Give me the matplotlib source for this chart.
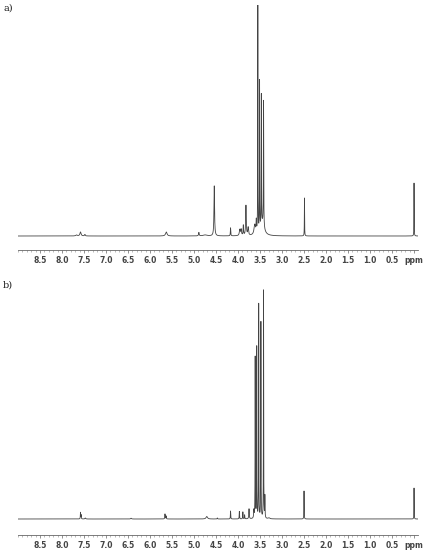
import numpy as np
import matplotlib
matplotlib.use("Agg")
import matplotlib.pyplot as plt
from matplotlib.ticker import MultipleLocator, FixedLocator, FixedFormatter

# ---- data: peak lists (chemical shift ppm, height, half-width ppm) ----
a_shift = [7.67, 7.58, 7.48, 5.63, 4.89, 4.75, 4.54, 4.17, 3.96, 3.93, 3.88, 3.82, 3.77,
           3.62, 3.585, 3.55, 3.51, 3.47, 3.42, 3.45, 2.49, 0.0]
a_height = [1.0, 4.0, 1.5, 4.0, 3.5, 1.0, 50, 8, 6, 6, 10, 30, 8,
            10, 12, 229, 149, 130, 126, 12, 38, 53]
a_width = [0.02, 0.015, 0.01, 0.02, 0.008, 0.05, 0.008, 0.005, 0.012, 0.01, 0.006, 0.008, 0.01,
           0.02, 0.006, 0.003, 0.003, 0.003, 0.004, 0.05, 0.003, 0.0025]

b_shift = [7.58, 7.565, 7.47, 6.43, 5.66, 5.635, 4.71, 4.47, 4.17, 3.97, 3.89, 3.85, 3.75,
           3.64, 3.61, 3.575, 3.53, 3.48, 3.42, 3.39, 3.30, 2.50, 0.0]
b_height = [6.5, 4, 1.0, 0.8, 5, 3, 2.5, 1.0, 8, 7.5, 7, 4, 10,
            8, 161, 171, 214, 196, 228, 22, 1.0, 28, 31]
b_width = [0.004, 0.004, 0.01, 0.01, 0.005, 0.005, 0.02, 0.005, 0.004, 0.004, 0.004, 0.004, 0.006,
           0.006, 0.003, 0.003, 0.003, 0.003, 0.003, 0.004, 0.02, 0.003, 0.0025]

xticks_major = [8.5, 8.0, 7.5, 7.0, 6.5, 6.0, 5.5, 5.0, 4.5, 4.0, 3.5, 3.0, 2.5, 2.0, 1.5, 1.0, 0.5, 0.0]
xtick_labels = ["8.5", "8.0", "7.5", "7.0", "6.5", "6.0", "5.5", "5.0", "4.5", "4.0", "3.5",
                "3.0", "2.5", "2.0", "1.5", "1.0", "0.5", "ppm"]

ppm = np.linspace(9.0, -0.1, 40000)


def spectrum(shift, height, width):
    y = np.zeros_like(ppm)
    for s, h, w in zip(shift, height, width):
        y += h / (1.0 + ((ppm - s) / w) ** 2)
    return y


W, H = 423, 550
fig = plt.figure(figsize=(W / 100, H / 100), dpi=100)


def panel(bottom_px, top_px, base_off, shift, height, width, label, label_y):
    ax = fig.add_axes([18 / W, (H - bottom_px) / H, 400 / W, (bottom_px - top_px) / H])
    y = spectrum(shift, height, width)
    ax.plot(ppm, y, color="#444444", lw=0.6)
    ax.set_xlim(9.0, -0.09)
    pxh = bottom_px - top_px
    ax.set_ylim(-base_off, pxh - base_off)
    for s in ["left", "right", "top"]:
        ax.spines[s].set_visible(False)
    ax.spines["bottom"].set_color("#666666")
    ax.spines["bottom"].set_linewidth(0.6)
    ax.set_yticks([])
    ax.xaxis.set_major_locator(FixedLocator(xticks_major))
    ax.xaxis.set_major_formatter(FixedFormatter(xtick_labels))
    ax.xaxis.set_minor_locator(MultipleLocator(0.1))
    ax.tick_params(axis="x", which="major", length=2.5, width=0.5, color="#666666",
                   labelsize=5.5, pad=2, labelcolor="#444444")
    ax.tick_params(axis="x", which="minor", length=1.5, width=0.4, color="#888888")
    for t in ax.get_xticklabels():
        t.set_fontweight("bold")
    fig.text(3 / W, 1 - label_y / H, label, family="DejaVu Serif", fontsize=7,
             va="center", ha="left", color="#222222")
    return ax


panel(250, 5, 14, a_shift, a_height, a_width, "a)", 8)
panel(535, 287, 16, b_shift, b_height, b_width, "b)", 285)

fig.savefig("out.png", dpi=100)
